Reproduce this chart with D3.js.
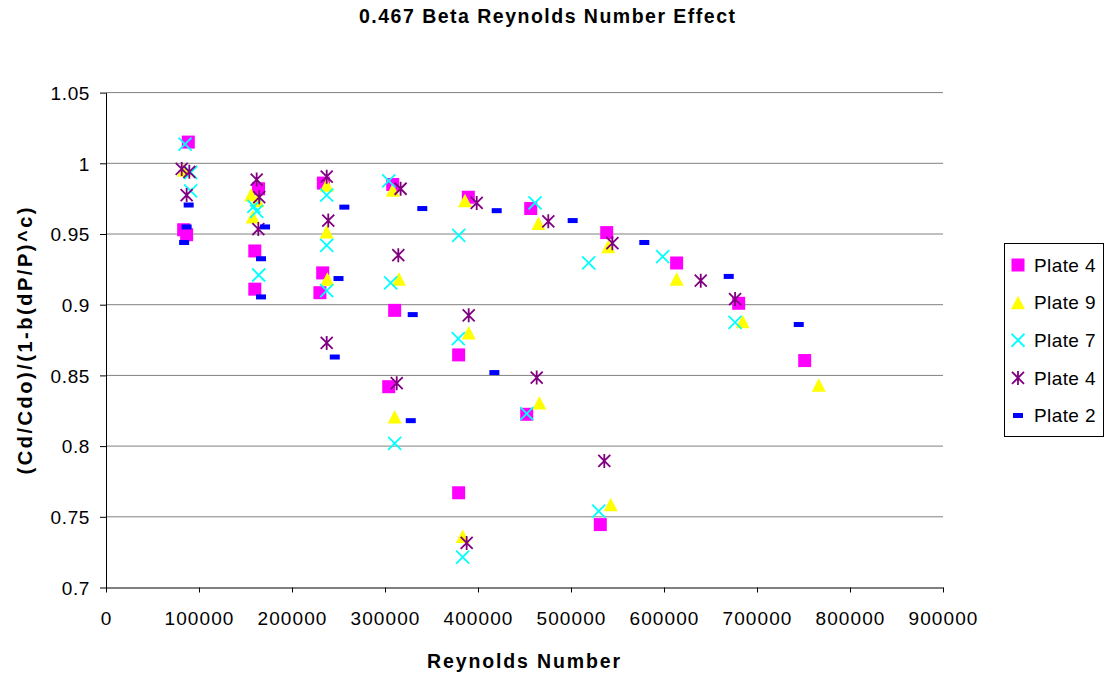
<!DOCTYPE html>
<html>
<head>
<meta charset="utf-8">
<script src="https://cdn.jsdelivr.net/npm/d3@7"></script>
<style>
  html, body { margin: 0; padding: 0; background: #fff; }
  svg { display: block; font-family: "Liberation Sans", Arial, sans-serif; }
</style>
</head>
<body>
<svg id="chart" width="1107" height="677"></svg>
<script>
// Reynolds number vs. normalised discharge coefficient, one array per plate run
const plate4Squares = [
  [88500, 1.015], [83500, 0.953], [86700, 0.9495],
  [164000, 0.982], [160000, 0.938], [160000, 0.911],
  [233700, 0.986], [233000, 0.9225], [230000, 0.9085],
  [308300, 0.985], [310400, 0.896], [304000, 0.842],
  [389600, 0.976], [379200, 0.8645], [379200, 0.767],
  [456700, 0.968], [452400, 0.8225],
  [538400, 0.951], [531500, 0.7445],
  [613600, 0.9295], [680300, 0.901], [751300, 0.8605]
];
const plate9Triangles = [
  [84000, 0.995],
  [156000, 0.9775], [163000, 0.9735], [157700, 0.962],
  [237300, 0.9845], [237300, 0.9515], [238000, 0.918],
  [308300, 0.981], [315000, 0.918], [310400, 0.8205],
  [386000, 0.9735], [390000, 0.88], [383500, 0.736],
  [465000, 0.9575], [466000, 0.8305],
  [540100, 0.941], [542700, 0.7585],
  [613600, 0.918], [684600, 0.888], [766400, 0.843]
];
const plate7Crosses = [
  [85000, 1.0135], [91000, 0.9935], [91000, 0.9805],
  [159000, 0.9695], [162000, 0.966], [164200, 0.921],
  [237300, 0.9775], [237300, 0.942], [237300, 0.910],
  [304000, 0.9875], [306100, 0.9155], [310400, 0.802],
  [379300, 0.949], [378800, 0.876], [383500, 0.7215],
  [461300, 0.972], [452400, 0.823],
  [519000, 0.9295], [529800, 0.754],
  [598600, 0.934], [676400, 0.8875]
];
const plate4Stars = [
  [81400, 0.996], [89600, 0.994], [86700, 0.9775],
  [162000, 0.9885], [164800, 0.976], [163800, 0.9535],
  [237300, 0.9905], [239000, 0.9595], [237300, 0.873],
  [316800, 0.982], [314300, 0.935], [312600, 0.8445],
  [398600, 0.972], [390000, 0.8925], [387800, 0.7315],
  [475600, 0.959], [463100, 0.8485],
  [544500, 0.9435], [535800, 0.7895],
  [639500, 0.917], [676400, 0.904]
];
const plate2Dashes = [
  [88900, 0.9705], [86700, 0.955], [84000, 0.944],
  [171000, 0.955], [166700, 0.9325], [166700, 0.9055],
  [256300, 0.969], [250000, 0.9185], [246000, 0.863],
  [340100, 0.968], [329800, 0.893], [327700, 0.818],
  [420100, 0.9665], [417600, 0.852],
  [501800, 0.9595], [578800, 0.944],
  [669600, 0.92], [744900, 0.886]
];

const seriesNames = ["Plate 4", "Plate 9", "Plate 7", "Plate 4", "Plate 2"];
const xTickValues = [0, 100000, 200000, 300000, 400000, 500000, 600000, 700000, 800000, 900000];
const xTickLabels = ["0", "100000", "200000", "300000", "400000", "500000", "600000", "700000", "800000", "900000"];
const yTickValues = [0.7, 0.75, 0.8, 0.85, 0.9, 0.95, 1.0, 1.05];
const yTickLabels = ["0.7", "0.75", "0.8", "0.85", "0.9", "0.95", "1", "1.05"];

const chartTitle = "0.467 Beta Reynolds Number Effect";
const xTitle = "Reynolds Number";
const yTitle = "(Cd/Cdo)/(1-b(dP/P)^c)";

const svg = d3.select("#chart");
const plot = { left: 106, right: 943, top: 92.6, bottom: 587.5 };

const x = d3.scaleLinear().domain([0, 900000]).range([plot.left, plot.right]);
const y = d3.scaleLinear().domain([0.7, 1.05]).range([plot.bottom, plot.top]);

// horizontal gridlines
svg.append("g")
  .selectAll("line")
  .data(yTickValues.filter(v => v > 0.7))
  .join("line")
  .attr("x1", plot.left).attr("x2", plot.right)
  .attr("y1", d => y(d)).attr("y2", d => y(d))
  .attr("stroke", "#808080").attr("stroke-width", 1);

// y axis
const yAxis = svg.append("g")
  .attr("transform", `translate(${plot.left},0)`)
  .call(d3.axisLeft(y).tickValues(yTickValues).tickSize(6).tickSizeOuter(0)
    .tickFormat((d, i) => yTickLabels[i]));
yAxis.select(".domain").attr("stroke", "#000");
yAxis.selectAll(".tick line").attr("stroke", "#000");
yAxis.selectAll(".tick text")
  .attr("x", -16).attr("dy", "0.36em")
  .attr("font-size", 19).attr("letter-spacing", 0.6)
  .attr("fill", "#000").attr("font-family", "Liberation Sans, Arial, sans-serif");

// x axis
const xAxis = svg.append("g")
  .attr("transform", `translate(0,${plot.bottom})`)
  .call(d3.axisBottom(x).tickValues(xTickValues).tickSize(5).tickSizeOuter(0)
    .tickFormat((d, i) => xTickLabels[i]));
xAxis.select(".domain").attr("stroke", "#000");
xAxis.selectAll(".tick line").attr("stroke", "#000");
xAxis.selectAll(".tick text")
  .attr("y", 37.5).attr("dy", 0)
  .attr("font-size", 19).attr("letter-spacing", 1.1)
  .attr("fill", "#000").attr("font-family", "Liberation Sans, Arial, sans-serif");

// marker painters
const markerPainters = {
  square(g) {
    g.append("rect").attr("x", -6.5).attr("y", -6.5).attr("width", 13).attr("height", 13)
      .attr("fill", "#FF00FF");
  },
  triangle(g) {
    g.append("path").attr("d", "M0,-7 L7,6.5 L-7,6.5 Z").attr("fill", "#FFFF00");
  },
  cross(g) {
    g.append("path").attr("d", "M-6.5,-6.5 L6.5,6.5 M-6.5,6.5 L6.5,-6.5")
      .attr("stroke", "#00FFFF").attr("stroke-width", 1.8).attr("fill", "none");
  },
  star(g) {
    g.append("path").attr("d", "M-6,-6 L6,6 M-6,6 L6,-6 M0,-7 L0,7")
      .attr("stroke", "#800080").attr("stroke-width", 1.8).attr("fill", "none");
  },
  dash(g) {
    g.append("rect").attr("x", -5).attr("y", -2.5).attr("width", 10).attr("height", 5)
      .attr("fill", "#0000FF");
  }
};

const series = [
  { name: seriesNames[0], data: plate4Squares, marker: "square" },
  { name: seriesNames[1], data: plate9Triangles, marker: "triangle" },
  { name: seriesNames[2], data: plate7Crosses, marker: "cross" },
  { name: seriesNames[3], data: plate4Stars, marker: "star" },
  { name: seriesNames[4], data: plate2Dashes, marker: "dash" }
];

series.forEach(s => {
  const g = svg.append("g").attr("class", "series");
  g.selectAll("g.pt")
    .data(s.data)
    .join("g")
    .attr("class", "pt")
    .attr("transform", d => `translate(${x(d[0])},${y(d[1])})`)
    .each(function () { markerPainters[s.marker](d3.select(this)); });
});

// legend
const legend = svg.append("g");
legend.append("rect")
  .attr("x", 1004.5).attr("y", 243.5).attr("width", 99).attr("height", 193)
  .attr("fill", "#fff").attr("stroke", "#000").attr("stroke-width", 1);
const legendY = d3.scalePoint().domain(d3.range(series.length)).range([265, 415.5]);
series.forEach((s, i) => {
  const row = legend.append("g").attr("transform", `translate(0,${legendY(i)})`);
  const m = row.append("g").attr("transform", "translate(1018,0)");
  markerPainters[s.marker](m);
  row.append("text")
    .attr("x", 1034).attr("y", 0).attr("dy", "0.36em")
    .attr("font-size", 19).attr("letter-spacing", 0.4)
    .attr("fill", "#000")
    .text(s.name);
});

// titles
svg.append("text")
  .attr("x", 547).attr("y", 23)
  .attr("text-anchor", "middle")
  .attr("font-size", 19.5).attr("font-weight", "bold")
  .attr("textLength", 376).attr("lengthAdjust", "spacing")
  .text(chartTitle);

svg.append("text")
  .attr("x", 523.5).attr("y", 668)
  .attr("text-anchor", "middle")
  .attr("font-size", 19.5).attr("font-weight", "bold")
  .attr("textLength", 193).attr("lengthAdjust", "spacing")
  .text(xTitle);

svg.append("text")
  .attr("transform", "translate(32,341) rotate(-90)")
  .attr("text-anchor", "middle")
  .attr("font-size", 20).attr("font-weight", "bold")
  .attr("textLength", 267).attr("lengthAdjust", "spacing")
  .text(yTitle);
</script>
</body>
</html>
